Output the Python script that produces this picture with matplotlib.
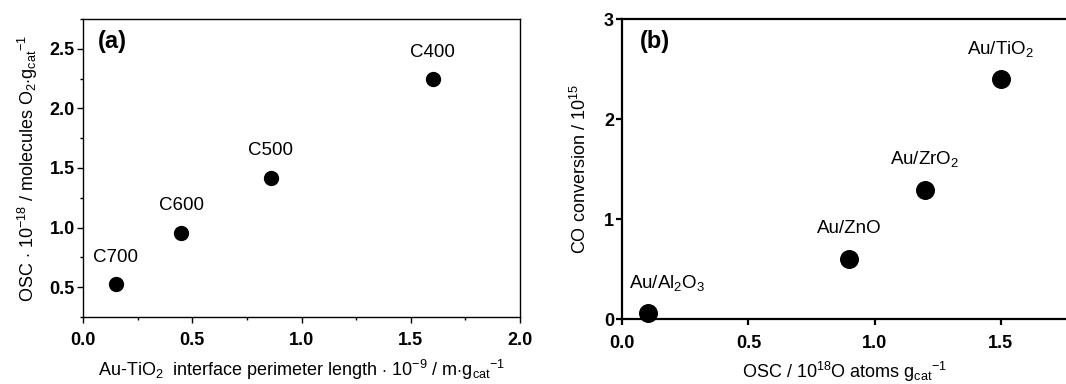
import matplotlib as mpl
mpl.use('Agg')
import matplotlib.pyplot as plt
from matplotlib.ticker import MultipleLocator

plt.rcParams['font.family'] = ['Liberation Sans', 'DejaVu Sans']
plt.rcParams['mathtext.fontset'] = 'custom'
plt.rcParams['mathtext.rm'] = 'Liberation Sans'
plt.rcParams['mathtext.it'] = 'Liberation Sans'
plt.rcParams['mathtext.bf'] = 'Liberation Sans:bold'

# panel (a): OSC vs interface perimeter length
a_names = ["C700", "C600", "C500", "C400"]
a_x = [0.15, 0.45, 0.86, 1.60]
a_y = [0.525, 0.955, 1.42, 2.245]

# panel (b): CO conversion vs OSC
b_names = ["Au/Al$_2$O$_3$", "Au/ZnO", "Au/ZrO$_2$", "Au/TiO$_2$"]
b_x = [0.10, 0.90, 1.20, 1.50]
b_y = [0.06, 0.60, 1.295, 2.40]
b_dx = [14, 0, 0, 0]

W, H = 1066, 384
fig = plt.figure(figsize=(W / 100, H / 100), dpi=100)

ax1 = fig.add_axes([83 / W, (H - 317) / H, (520 - 83) / W, (317 - 19) / H])
ax2 = fig.add_axes([622.3 / W, (H - 319.3) / H, (W - 622.3) / W, 300 / H])

# ---- (a)
ax1.scatter(a_x, a_y, s=100, color='black', zorder=3)
for n, x, y in zip(a_names, a_x, a_y):
    ax1.annotate(n, (x, y), xytext=(0, 19.5), textcoords='offset points',
                 ha='center', va='center', fontsize=13.5)
ax1.set_xlim(0, 2.0)
ax1.set_ylim(0.25, 2.75)
ax1.xaxis.set_major_locator(MultipleLocator(0.5))
ax1.xaxis.set_minor_locator(MultipleLocator(0.25))
ax1.yaxis.set_major_locator(MultipleLocator(0.5))
ax1.yaxis.set_minor_locator(MultipleLocator(0.25))
ax1.set_xlabel(r"Au-TiO$_2$  interface perimeter length $\cdot$ 10$^{-9}$ / m$\cdot$g$_{cat}$$^{-1}$",
               fontsize=13, labelpad=6)
ax1.set_ylabel(r"OSC $\cdot$ 10$^{-18}$ / molecules O$_2$$\cdot$g$_{cat}$$^{-1}$",
               fontsize=13, labelpad=7)
ax1.text(0.035, 0.925, "(a)", transform=ax1.transAxes, fontsize=17,
         fontweight='bold', ha='left', va='center')

# ---- (b)
ax2.scatter(b_x, b_y, s=160, color='black', zorder=3, clip_on=False)
for n, x, y, dx in zip(b_names, b_x, b_y, b_dx):
    ax2.annotate(n, (x, y), xytext=(dx, 22), textcoords='offset points',
                 ha='center', va='center', fontsize=13.5)
ax2.set_xlim(0, (W - 622.3) / 252.3)
ax2.set_ylim(0, 3)
ax2.xaxis.set_major_locator(MultipleLocator(0.5))
ax2.yaxis.set_major_locator(MultipleLocator(1))
ax2.set_xlabel(r"OSC / 10$^{18}$O atoms g$_{cat}$$^{-1}$", fontsize=13, labelpad=6)
ax2.set_ylabel(r"CO conversion / 10$^{15}$", fontsize=13, labelpad=10)
ax2.text(0.04, 0.925, "(b)", transform=ax2.transAxes, fontsize=17,
         fontweight='bold', ha='left', va='center')
ax2.spines['right'].set_visible(False)

for ax, lw in ((ax1, 1.0), (ax2, 1.6)):
    for sp in ax.spines.values():
        sp.set_linewidth(lw)
    ax.tick_params(which='major', direction='out', length=4, width=lw, labelsize=13)
    ax.tick_params(which='minor', direction='out', length=2.5, width=lw)
    ax.tick_params(axis='x', which='both', pad=7)
    ax.tick_params(axis='y', which='both', pad=2)
    for lab in ax.get_xticklabels() + ax.get_yticklabels():
        lab.set_fontweight('bold')

fig.savefig("out.png", dpi=100)
